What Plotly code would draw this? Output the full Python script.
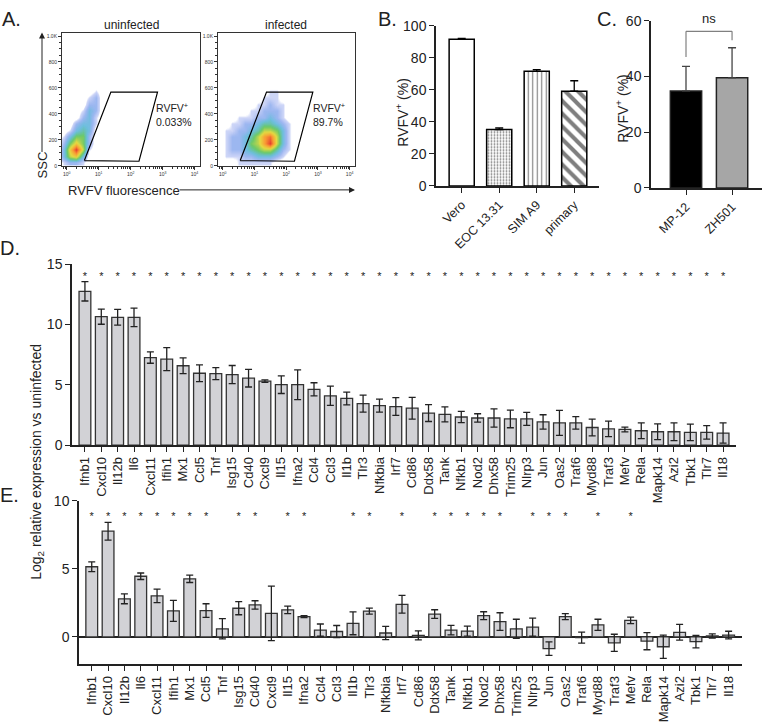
import math
import plotly.graph_objects as go

W, H = 763, 724
FONT = "Liberation Sans, Arial, sans-serif"

# ---------------- data ----------------
# A: flow cytometry density (log10 fluorescence vs SSC)
flow_y = [25, 75, 125, 175, 225, 275, 325, 375, 425, 475, 525, 575, 625]
uninf_x = [-0.3, -0.1, 0.1, 0.3, 0.5, 0.7, 0.9, 1.1]
uninf_z = [
    [0, 1, 2, 2, 1, 0, 0, 0],
    [0, 3, 6, 7, 3, 0, 0, 0],
    [0, 3, 7, 10, 6, 1, 0, 0],
    [0, 2, 5, 7, 5, 2, 0, 0],
    [0, 1, 3, 5, 5, 2, 0, 0],
    [0, 0, 1, 3, 4, 3, 0, 0],
    [0, 0, 0, 2, 3, 3, 1, 0],
    [0, 0, 0, 0, 2, 3, 1, 0],
    [0, 0, 0, 0, 1, 3, 2, 0],
    [0, 0, 0, 0, 0, 2, 2, 0],
    [0, 0, 0, 0, 0, 1, 2, 0],
    [0, 0, 0, 0, 0, 0, 1, 0],
    [0, 0, 0, 0, 0, 0, 0, 0],
]
inf_x = [-0.1, 0.1, 0.3, 0.5, 0.7, 0.9, 1.1, 1.3, 1.5, 1.7, 1.9, 2.1, 2.3]
inf_z = [
    [0, 0, 0, 1, 1, 1, 1, 1, 1, 0, 0, 0, 0],
    [0, 1, 1, 1, 2, 2, 3, 3, 3, 2, 1, 0, 0],
    [0, 1, 2, 2, 3, 4, 5, 6, 6, 4, 2, 1, 0],
    [0, 1, 2, 2, 3, 5, 6, 8, 10, 6, 3, 1, 0],
    [0, 1, 2, 2, 3, 4, 6, 8, 9, 6, 3, 1, 0],
    [0, 1, 1, 2, 2, 3, 4, 6, 6, 5, 3, 1, 0],
    [0, 0, 1, 1, 2, 2, 3, 4, 4, 3, 2, 1, 0],
    [0, 0, 0, 1, 1, 1, 2, 2, 3, 2, 1, 0, 0],
    [0, 0, 0, 0, 0, 1, 1, 2, 2, 2, 1, 0, 0],
    [0, 0, 0, 0, 0, 0, 1, 1, 2, 1, 1, 0, 0],
    [0, 0, 0, 0, 0, 0, 0, 1, 1, 1, 0, 0, 0],
    [0, 0, 0, 0, 0, 0, 0, 0, 1, 1, 0, 0, 0],
    [0, 0, 0, 0, 0, 0, 0, 0, 0, 0, 0, 0, 0],
]
gate_x = [0.55, 1.38, 2.84, 2.26, 0.55]
gate_y = [40, 568, 568, 35, 40]
gate_pct = ["0.033%", "89.7%"]

# B: infection of cell types
cells = ["Vero", "EOC 13.31", "SIM A9", "primary"]
cells_pct = [91.5, 35.2, 71.5, 59.1]
cells_err = [0.5, 1.0, 1.0, 6.5]

# C: strains
strains = ["MP-12", "ZH501"]
strains_pct = [34.8, 39.5]
strains_err = [8.8, 10.8]
ns_bracket = 56.2
ns_legs = [47.0, 53.0]

# D / E: gene expression
genes = ["Ifnb1", "Cxcl10", "Il12b", "Il6", "Cxcl11", "Ifih1", "Mx1", "Ccl5", "Tnf", "Isg15",
         "Cd40", "Cxcl9", "Il15", "Ifna2", "Ccl4", "Ccl3", "Il1b", "Tlr3", "Nfkbia", "Irf7",
         "Cd86", "Ddx58", "Tank", "Nfkb1", "Nod2", "Dhx58", "Trim25", "Nlrp3", "Jun", "Oas2",
         "Traf6", "Myd88", "Traf3", "Mefv", "Rela", "Mapk14", "Azi2", "Tbk1", "Tlr7", "Il18"]
d_vals = [12.75, 10.65, 10.6, 10.59, 7.26, 7.13, 6.58, 5.96, 5.93, 5.85,
          5.55, 5.31, 5.01, 5.01, 4.63, 4.09, 3.87, 3.44, 3.28, 3.2,
          3.06, 2.66, 2.55, 2.33, 2.25, 2.25, 2.17, 2.17, 1.92, 1.84,
          1.84, 1.46, 1.35, 1.3, 1.19, 1.11, 1.11, 1.06, 1.06, 1.0]
d_err = [0.8, 0.63, 0.65, 0.77, 0.47, 0.95, 0.66, 0.69, 0.5, 0.75,
         0.73, 0.1, 0.73, 1.23, 0.54, 0.8, 0.53, 0.7, 0.54, 0.73,
         0.9, 0.7, 0.62, 0.46, 0.35, 0.75, 0.73, 0.54, 0.6, 1.04,
         0.52, 0.7, 0.64, 0.2, 0.65, 0.65, 0.73, 0.68, 0.56, 0.84]
d_sig_genes = list(genes)
e_vals = [5.16, 7.77, 2.8, 4.46, 3.02, 1.92, 4.27, 1.94, 0.6, 2.11,
          2.35, 1.73, 1.99, 1.49, 0.5, 0.4, 1.0, 1.9, 0.29, 2.4,
          0.12, 1.68, 0.5, 0.43, 1.56, 1.13, 0.6, 0.72, -0.86, 1.49,
          -0.05, 0.89, -0.43, 1.22, -0.31, -0.72, 0.34, -0.34, 0.07, 0.14]
e_err = [0.36, 0.65, 0.36, 0.24, 0.5, 0.77, 0.27, 0.5, 0.74, 0.48,
         0.31, 2.0, 0.27, 0.07, 0.45, 0.44, 0.84, 0.22, 0.48, 0.65,
         0.33, 0.32, 0.35, 0.37, 0.29, 0.65, 0.7, 0.67, 0.5, 0.22,
         0.4, 0.41, 0.63, 0.24, 0.63, 0.86, 0.58, 0.46, 0.15, 0.28]
e_sig_genes = ["Ifnb1", "Cxcl10", "Il12b", "Il6", "Cxcl11", "Ifih1", "Mx1", "Ccl5", "Isg15",
               "Cd40", "Il15", "Ifna2", "Il1b", "Tlr3", "Irf7", "Ddx58", "Tank", "Nfkb1",
               "Nod2", "Dhx58", "Nlrp3", "Jun", "Oas2", "Myd88", "Mefv"]


# ---------------- helpers ----------------
def xd(left, right):
    return [left / W, right / W]


def yd(top, bottom):
    return [1 - bottom / H, 1 - top / H]


def px(x):
    return x / W


def py(y):
    return 1 - y / H


FLOW_SCALE = [
    [0.0, "rgba(70,100,225,0)"], [0.07, "rgba(70,100,225,0)"],
    [0.1, "rgba(70,100,225,0.3)"], [0.2, "rgba(55,110,225,0.55)"], [0.32, "rgba(40,160,205,0.75)"],
    [0.48, "rgb(90,195,90)"], [0.65, "rgb(225,215,45)"], [0.82, "rgb(250,145,30)"],
    [1.0, "rgb(228,40,25)"],
]

fig = go.Figure()

# ---- A: flow plots ----
for i, (fx, fz) in enumerate([(uninf_x, uninf_z), (inf_x, inf_z)]):
    n = "" if i == 0 else "2"
    fig.add_trace(go.Heatmap(x=fx, y=flow_y, z=fz, zmin=0, zmax=10, zsmooth="best",
                             colorscale=FLOW_SCALE, showscale=False, opacity=0.9,
                             xaxis="x" + n, yaxis="y" + n, hoverinfo="skip"))
    fig.add_trace(go.Scatter(x=gate_x, y=gate_y, mode="lines", line=dict(color="black", width=1.2),
                             xaxis="x" + n, yaxis="y" + n, hoverinfo="skip"))

# ---- B ----
fig.add_trace(go.Bar(
    x=cells, y=cells_pct, xaxis="x3", yaxis="y3", width=0.67,
    marker=dict(color="white", line=dict(color="black", width=1.5),
                pattern=dict(shape=["", ".", "|", "\\"], fgcolor="black", bgcolor="white",
                             size=[6, 3, 4.5, 9], solidity=[0.2, 0.3, 0.25, 0.45])),
    error_y=dict(type="data", symmetric=False, array=cells_err, arrayminus=[0] * 4,
                 color="black", thickness=1.3, width=4),
))

# ---- C ----
fig.add_trace(go.Bar(
    x=strains, y=strains_pct, xaxis="x4", yaxis="y4", width=0.68,
    marker=dict(color=["black", "#a6a6a6"], line=dict(color="#222", width=1.5)),
    error_y=dict(type="data", symmetric=False, array=strains_err, arrayminus=[0] * 2,
                 color="#444", thickness=1.3, width=4),
))

# ---- D ----
fig.add_trace(go.Bar(
    x=genes, y=d_vals, xaxis="x5", yaxis="y5", width=0.72,
    marker=dict(color="#d2d2d6", line=dict(color="#333", width=1.3)),
    error_y=dict(type="data", array=d_err, color="#222", thickness=1.3, width=3.5),
))
fig.add_trace(go.Scatter(
    x=d_sig_genes, y=[13.9] * len(d_sig_genes), mode="text", text=["*"] * len(d_sig_genes),
    textfont=dict(size=11, color="#222", family=FONT), xaxis="x5", yaxis="y5", hoverinfo="skip"))

# ---- E ----
fig.add_trace(go.Bar(
    x=genes, y=e_vals, xaxis="x6", yaxis="y6", width=0.72,
    marker=dict(color="#d2d2d6", line=dict(color="#333", width=1.3)),
    error_y=dict(type="data", array=e_err, color="#222", thickness=1.3, width=3.5),
))
fig.add_trace(go.Scatter(
    x=e_sig_genes, y=[8.8] * len(e_sig_genes), mode="text", text=["*"] * len(e_sig_genes),
    textfont=dict(size=11, color="#222", family=FONT), xaxis="x6", yaxis="y6", hoverinfo="skip"))

# ---------------- axes ----------------
log_minor = [d + math.log10(k) for d in range(-1, 4) for k in range(2, 10)]
flow_x = dict(range=[-0.15, 4.17], tickmode="array", tickvals=[0, 1, 2, 3, 4],
              ticktext=["10<sup>0</sup>", "10<sup>1</sup>", "10<sup>2</sup>", "10<sup>3</sup>", "10<sup>4</sup>"],
              ticks="outside", ticklen=3, tickwidth=0.8, tickcolor="#333",
              minor=dict(tickmode="array", tickvals=log_minor, ticks="outside", ticklen=1.8, tickcolor="#333"),
              tickfont=dict(size=5, color="#333", family=FONT),
              showline=True, linecolor="#333", linewidth=1, mirror=True, showgrid=False, zeroline=False)
flow_yax = dict(range=[-5, 1020], tickmode="array", tickvals=[0, 200, 400, 600, 800, 1000],
                ticktext=["0", "200", "400", "600", "800", "1.0K"],
                ticks="outside", ticklen=3, tickwidth=0.8, tickcolor="#333",
                minor=dict(dtick=50, ticks="outside", ticklen=1.8, tickcolor="#333"),
                tickfont=dict(size=5, color="#333", family=FONT),
                showline=True, linecolor="#333", linewidth=1, mirror=True, showgrid=False, zeroline=False)


def prism_x(**kw):
    base = dict(showline=True, linecolor="#222", linewidth=1.5, ticks="outside", ticklen=5,
                tickwidth=1.3, tickcolor="#222", showgrid=False, zeroline=False,
                tickfont=dict(size=13, color="#222", family=FONT))
    base.update(kw)
    return base


def prism_y(**kw):
    base = dict(showline=True, linecolor="#222", linewidth=1.5, ticks="outside", ticklen=5,
                tickwidth=1.3, tickcolor="#222", showgrid=False, zeroline=False,
                tickfont=dict(size=14, color="#222", family=FONT))
    base.update(kw)
    return base


fig.update_layout(
    width=W, height=H, margin=dict(l=0, r=0, t=0, b=0),
    paper_bgcolor="white", plot_bgcolor="white", showlegend=False,
    font=dict(family=FONT, color="#222"), bargap=0.3,
    xaxis=dict(flow_x, domain=xd(62, 200), anchor="y"),
    yaxis=dict(flow_yax, domain=yd(26, 162), anchor="x"),
    xaxis2=dict(flow_x, domain=xd(218, 355), anchor="y2"),
    yaxis2=dict(flow_yax, domain=yd(26, 162), anchor="x2"),
    xaxis3=prism_x(domain=xd(436, 599), anchor="y3", range=[-0.685, 3.66], tickangle=-45,
                   tickfont=dict(size=12.5, color="#222", family=FONT)),
    yaxis3=prism_y(domain=yd(18, 182), anchor="x3", range=[0, 100], tickvals=[0, 20, 40, 60, 80, 100]),
    xaxis4=prism_x(domain=xd(651, 762), anchor="y4", range=[-0.76, 1.65], tickangle=-45,
                   tickfont=dict(size=12.5, color="#222", family=FONT)),
    yaxis4=prism_y(domain=yd(13, 184), anchor="x4", range=[0, 60], tickvals=[0, 20, 40, 60]),
    xaxis5=prism_x(domain=xd(72, 736), anchor="y5", range=[-0.79, 39.79], tickangle=-90),
    yaxis5=prism_y(domain=yd(262, 447), anchor="x5", range=[0, 15], tickvals=[0, 5, 10, 15]),
    xaxis6=prism_x(domain=xd(79, 742), anchor="y6", range=[-0.78, 39.82], tickangle=-90),
    yaxis6=prism_y(domain=yd(504, 671), anchor="x6", range=[-2, 10], tickvals=[0, 5, 10],
                   zeroline=True, zerolinecolor="#222", zerolinewidth=1.5),
)

# ns bracket in C
for x0, y0, x1, y1 in [(strains[0], ns_bracket, strains[1], ns_bracket),
                       (strains[0], ns_legs[0], strains[0], ns_bracket),
                       (strains[1], ns_legs[1], strains[1], ns_bracket)]:
    fig.add_shape(type="line", xref="x4", yref="y4", x0=x0, y0=y0, x1=x1, y1=y1,
                  line=dict(color="#808080", width=1.2))

ann = []


def label(text, x, y, size, xanchor="center", yanchor="middle", **kw):
    ann.append(dict(text=text, x=px(x), y=py(y), xref="paper", yref="paper", showarrow=False,
                    xanchor=xanchor, yanchor=yanchor,
                    font=dict(size=size, color="#222", family=FONT), **kw))


label("A.", 11, 11, 20)
label("B.", 387, 11, 20)
label("C.", 607, 11, 20)
label("D.", 10, 245, 20)
label("E.", 9, 498, 20)
label("uninfected", 131, 17, 12)
label("infected", 286, 17, 12)
label("RVFV<sup>+</sup><br>" + gate_pct[0], 154, 109, 10.5, xanchor="left", align="left")
label("RVFV<sup>+</sup><br>" + gate_pct[1], 311, 109, 10.5, xanchor="left", align="left")
label("RVFV fluorescence", 66, 187, 13, xanchor="left")
label("SSC", 42, 161, 13, textangle=-90)
label("RVFV<sup>+</sup> (%)", 402, 107, 14, textangle=-90)
label("RVFV<sup>+</sup> (%)", 622, 103, 14, textangle=-90)
label("ns", 709, 11, 13)
label("Log<sub>2</sub> relative expression vs uninfected", 37, 464, 14, textangle=-90)

# axis arrows for the flow plots (tail offsets in pixels)
ann.append(dict(x=px(355), y=py(186), ax=-177, ay=0, xref="paper", yref="paper",
                showarrow=True, arrowhead=2, arrowsize=1.2,
                arrowwidth=1, arrowcolor="#222", text=""))
ann.append(dict(x=px(42), y=py(25), ax=0, ay=121, xref="paper", yref="paper",
                showarrow=True, arrowhead=2, arrowsize=1.2,
                arrowwidth=1, arrowcolor="#222", text=""))
fig.update_layout(annotations=ann)

fig.write_html("out.html", config={"displayModeBar": False},
               post_script="document.body.style.margin='0px';")
